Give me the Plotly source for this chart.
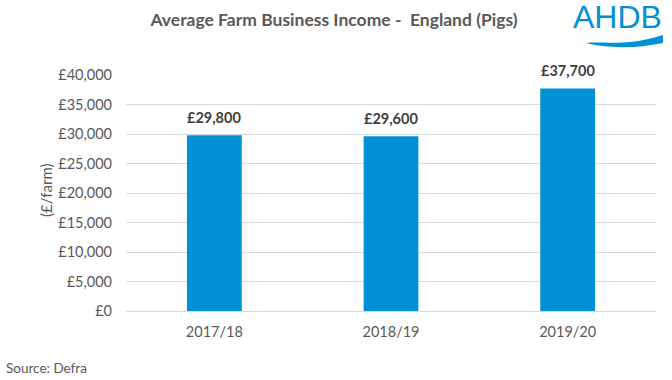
import plotly.graph_objects as go

categories = ["2017/18", "2018/19", "2019/20"]
values = [29800, 29600, 37700]
tick_vals = [0, 5000, 10000, 15000, 20000, 25000, 30000, 35000, 40000]
tick_text = ["£0", "£5,000", "£10,000", "£15,000", "£20,000", "£25,000", "£30,000", "£35,000", "£40,000"]
labels = ["£29,800", "£29,600", "£37,700"]

FONT = "Lato, Open Sans, sans-serif"
GREY = "#595959"
BLUE = "#0090d4"

L, R, T, B = 126, 16, 75, 69
W, H = 672, 380
pw = W - L - R
ph = H - T - B

def px(x):
    return (x - L) / pw

def py(y):
    return (H - B - y) / ph

fig = go.Figure()
fig.add_trace(go.Bar(
    x=categories, y=values, width=0.31,
    marker=dict(color=BLUE, line=dict(width=0)),
    hoverinfo="skip",
))

for c, v, t in zip(categories, values, labels):
    fig.add_annotation(x=c, y=v, text=f"<b>{t}</b>", showarrow=False,
                       xanchor="center", yanchor="middle", yshift=18,
                       font=dict(family=FONT, size=14.5, color="#404040"))

fig.update_layout(
    width=W, height=H,
    margin=dict(l=L, r=R, t=T, b=B),
    paper_bgcolor="white", plot_bgcolor="white",
    showlegend=False,
    font=dict(family=FONT, color=GREY, size=14),
    title=dict(text="<b>Average Farm Business Income -  England (Pigs)</b>",
               xref="container", yref="container",
               x=334 / W, xanchor="center", y=1 - 20 / H, yanchor="middle",
               font=dict(family=FONT, size=17.5, color=GREY)),
    xaxis=dict(showgrid=False, showline=False, ticks="", tickfont=dict(size=14.5, color=GREY),
               ticklabelstandoff=10),
    yaxis=dict(range=[0, 40000], tickvals=tick_vals, ticktext=tick_text,
               showgrid=True, gridcolor="#d9d9d9", gridwidth=1,
               zeroline=True, zerolinecolor="#d9d9d9", zerolinewidth=1,
               showline=False, ticks="", tickfont=dict(size=14.5, color=GREY),
               ticklabelstandoff=13),
)

fig.add_annotation(text="(£/farm)", xref="paper", yref="paper",
                   x=px(46), y=py(190), textangle=-90, showarrow=False,
                   font=dict(size=15, color=GREY, family=FONT), xanchor="center", yanchor="middle")
fig.add_annotation(text="Source: Defra", xref="paper", yref="paper",
                   x=px(4), y=py(368), xanchor="left", yanchor="middle", showarrow=False,
                   font=dict(size=13.5, color=GREY, family=FONT))
# logo
fig.add_annotation(text="AHDB", xref="paper", yref="paper",
                   x=px(617), y=py(17), xanchor="center", yanchor="middle", showarrow=False,
                   font=dict(size=32, color=BLUE, family="Liberation Sans, Arial, sans-serif"))
wave = (f"M {px(586)},{py(43)} C {px(605)},{py(41)} {px(625)},{py(47)} {px(663)},{py(35)} "
        f"L {px(663)},{py(43)} C {px(635)},{py(49)} {px(605)},{py(48)} {px(586)},{py(43)} Z")
fig.add_shape(type="path", path=wave, xref="paper", yref="paper",
              fillcolor=BLUE, line=dict(width=0))

fig.write_html("out.html", config={"displayModeBar": False},
               post_script="document.body.style.margin='0';document.body.style.padding='0';")
